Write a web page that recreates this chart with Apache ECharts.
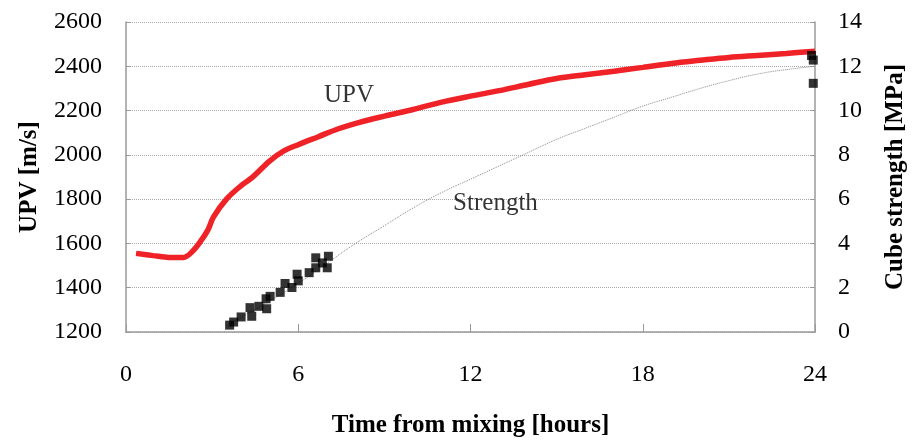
<!DOCTYPE html>
<html>
<head>
<meta charset="utf-8">
<script src="https://cdn.jsdelivr.net/npm/echarts@6/dist/echarts.min.js"></script>
<style>
html,body{margin:0;padding:0;background:#fff;}
#chart{width:916px;height:443px;}
</style>
</head>
<body>
<div id="chart"></div>
<script>
// UPV curve (hours, m/s)
var upvHours = [0.35,0.95,1.5,2.0,2.3,2.6,2.85,3.05,3.5,4.0,4.4,5.0,5.5,6.0,6.7,7.4,8.1,9.0,10,11,12,13,14,15,16,17,18,19,20,21,22,23,24];
var upvValues = [1555,1545,1537,1537,1562,1610,1660,1720,1800,1860,1898,1972,2018,2046,2082,2118,2146,2175,2205,2238,2265,2290,2318,2345,2362,2378,2395,2413,2427,2440,2449,2458,2468];

// Measured cube strength (hours, MPa)
var strHours = [3.61,3.75,4.01,4.38,4.32,4.63,4.9,4.88,5.02,5.37,5.54,5.78,5.96,6.0,6.38,6.61,6.61,6.84,7.05,7.01,23.88,23.94,23.94];
var strValues = [0.31,0.45,0.68,0.71,1.1,1.16,1.05,1.5,1.61,1.79,2.19,2.01,2.61,2.31,2.68,2.9,3.35,3.12,3.42,2.9,12.49,12.28,11.23];

// Strength trend line (hours, MPa)
var trendHours = [3.5,4,5,6,7,8,9,10,11,12,13,14,15,16,17,18,19,20,21,22,23,24];
var trendValues = [0.25,0.65,1.4,2.2,3.1,4.0,4.8,5.6,6.3,6.9,7.5,8.1,8.7,9.2,9.7,10.2,10.6,11.0,11.35,11.65,11.85,12.0];

// Axis ticks
var xTicks = [0,6,12,18,24];
var upvTicks = [1200,1400,1600,1800,2000,2200,2400,2600];
var mpaTicks = [0,2,4,6,8,10,12,14];

// In-chart text annotations (hours, UPV scale)
var noteNames = ['UPV','Strength'];
var noteHours = [7.77,12.87];
var noteUpv = [2267,1782];

function pairs(a,b){return a.map(function(v,i){return [v,b[i]];});}
function plain(v){return String(v);}

var FONT = '"Liberation Serif","Times New Roman",serif';
var AX = '#9a9a9a';

var chart = echarts.init(document.getElementById('chart'), null, {renderer:'canvas'});
chart.setOption({
  animation:false,
  backgroundColor:'#fff',
  grid:{left:126,right:98,top:22,bottom:106,containLabel:false},
  xAxis:{
    type:'value',min:xTicks[0],max:xTicks[xTicks.length-1],interval:xTicks[1]-xTicks[0],
    name:'Time from mixing [hours]',nameLocation:'middle',nameGap:81,
    nameTextStyle:{fontFamily:FONT,fontSize:25,fontWeight:'bold',color:'#000'},
    axisLine:{lineStyle:{color:AX,width:1.5}},
    axisTick:{inside:true,length:8,lineStyle:{color:AX}},
    axisLabel:{margin:31,fontFamily:FONT,fontSize:24,color:'#000',formatter:plain},
    splitLine:{show:false}
  },
  yAxis:[{
    type:'value',min:upvTicks[0],max:upvTicks[upvTicks.length-1],interval:upvTicks[1]-upvTicks[0],
    name:'UPV [m/s]',nameLocation:'middle',nameGap:84,nameRotate:90,
    nameTextStyle:{fontFamily:FONT,fontSize:25,fontWeight:'bold',color:'#000'},
    axisLine:{show:true,lineStyle:{color:AX,width:1.5}},
    axisTick:{show:true,inside:true,length:4,lineStyle:{color:AX}},
    axisLabel:{margin:24,fontFamily:FONT,fontSize:24,color:'#000',formatter:plain},
    splitLine:{show:true,lineStyle:{color:'#a8a8a8',type:'dotted',width:1}}
  },{
    type:'value',min:mpaTicks[0],max:mpaTicks[mpaTicks.length-1],interval:mpaTicks[1]-mpaTicks[0],
    position:'right',
    name:'Cube strength [MPa]',nameLocation:'middle',nameGap:68,nameRotate:90,
    nameTextStyle:{fontFamily:FONT,fontSize:25,fontWeight:'bold',color:'#000'},
    axisLine:{show:true,lineStyle:{color:AX,width:1.5}},
    axisTick:{show:true,inside:true,length:5,lineStyle:{color:AX}},
    axisLabel:{margin:23,fontFamily:FONT,fontSize:24,color:'#000',formatter:plain},
    splitLine:{show:false}
  }],
  series:[{
    name:'Strength trend',type:'line',yAxisIndex:1,data:pairs(trendHours,trendValues),
    smooth:true,showSymbol:false,symbol:'none',
    lineStyle:{color:'#8a8a8a',width:1,type:'dotted'},z:2
  },{
    name:'UPV',type:'line',yAxisIndex:0,data:pairs(upvHours,upvValues),
    smooth:0.35,showSymbol:false,symbol:'none',
    lineStyle:{color:'#ee2227',width:5.5},z:3
  },{
    name:'Strength',type:'scatter',yAxisIndex:1,data:pairs(strHours,strValues),
    symbol:'rect',symbolSize:9,itemStyle:{color:'#000'},z:4
  },{
    name:'notes',type:'scatter',yAxisIndex:0,
    data:noteNames.map(function(n,i){return {name:n,value:[noteHours[i],noteUpv[i]]};}),
    symbolSize:0,silent:true,
    label:{show:true,position:'inside',formatter:'{b}',fontFamily:FONT,fontSize:25,color:'#000',textBorderWidth:0}
  }]
});
</script>
</body>
</html>
